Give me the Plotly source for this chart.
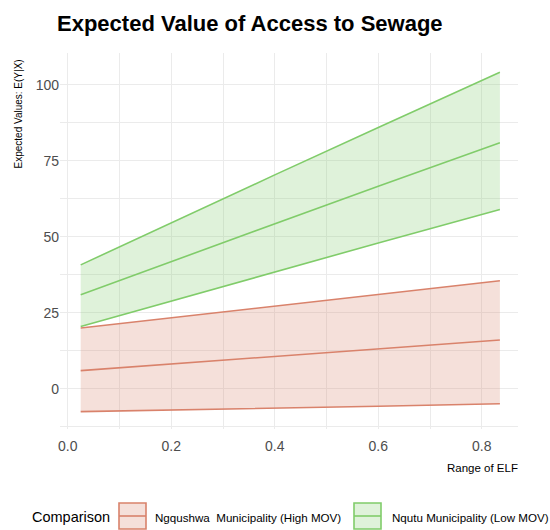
import plotly.graph_objects as go

elf = [0.025, 0.2, 0.4, 0.6, 0.835]

ngq_lower = [-7.5, -7.0, -6.3, -5.7, -4.9]
ngq_mid = [6.0, 8.2, 10.7, 13.1, 16.1]
ngq_upper = [20.0, 23.4, 27.2, 31.1, 35.6]

nqu_lower = [20.5, 28.9, 38.4, 48.0, 59.0]
nqu_mid = [31.0, 41.9, 54.3, 66.7, 81.0]
nqu_upper = [40.8, 54.7, 70.4, 86.0, 104.2]

names = ["Ngqushwa  Municipality (High MOV)", "Nqutu Municipality (Low MOV)"]
line_cols = ["#D9826B", "#80CC6A"]
fill_cols = ["rgba(217,130,107,0.25)", "rgba(128,204,106,0.25)"]

W, H = 550, 530
ML, MR, MT, MB = 60, 32, 53, 101
PW, PH = W - ML - MR, H - MT - MB


def px(xp):
    return (xp - ML) / PW


def py(yp):
    return (H - MB - yp) / PH


fig = go.Figure()
for name, lc, fc, lo, mid, up in [
    (names[0], line_cols[0], fill_cols[0], ngq_lower, ngq_mid, ngq_upper),
    (names[1], line_cols[1], fill_cols[1], nqu_lower, nqu_mid, nqu_upper),
]:
    fig.add_trace(go.Scatter(x=elf, y=lo, mode="lines", line=dict(color=lc, width=1.6),
                             showlegend=False, hoverinfo="skip"))
    fig.add_trace(go.Scatter(x=elf, y=up, mode="lines", line=dict(color=lc, width=1.6),
                             fill="tonexty", fillcolor=fc, name=name, showlegend=False))
    fig.add_trace(go.Scatter(x=elf, y=mid, mode="lines", line=dict(color=lc, width=1.6),
                             showlegend=False, name=name))

# legend drawn manually (ggplot style keys)
shapes = []
annotations = []
key_x = [(119, 146), (354, 381)]
text_x = [153, 390]
ky0, ky1 = 503, 529
for (x0, x1), lc, fc, tx, name in zip(key_x, line_cols, fill_cols, text_x, names):
    shapes.append(dict(type="rect", xref="paper", yref="paper",
                       x0=px(x0), x1=px(x1), y0=py(ky1), y1=py(ky0),
                       fillcolor=fc, line=dict(color=lc, width=1.6)))
    shapes.append(dict(type="line", xref="paper", yref="paper",
                       x0=px(x0), x1=px(x1), y0=py((ky0 + ky1) / 2), y1=py((ky0 + ky1) / 2),
                       line=dict(color=lc, width=1.6)))
    annotations.append(dict(text=name, x=px(tx), xref="paper", xanchor="left",
                            y=py(517), yref="paper", yanchor="middle", showarrow=False,
                            font=dict(size=11.6, color="black")))
annotations.append(dict(text="Comparison", x=px(30), xref="paper", xanchor="left",
                        y=py(517), yref="paper", yanchor="middle", showarrow=False,
                        font=dict(size=14.5, color="black")))
annotations.append(dict(text="Range of ELF", x=px(520), xref="paper", xanchor="right",
                        y=py(468), yref="paper", yanchor="middle", showarrow=False,
                        font=dict(size=11.5, color="black")))
annotations.append(dict(text="Expected Values: E(Y|X)", x=px(18), xref="paper", xanchor="center",
                        y=py(58), yref="paper", yanchor="top", textangle=-90, showarrow=False,
                        font=dict(size=10, color="black")))

grid = "#EBEBEB"
fig.update_layout(
    width=W, height=H,
    paper_bgcolor="white", plot_bgcolor="white",
    margin=dict(l=ML, r=MR, t=MT, b=MB, autoexpand=False),
    showlegend=False,
    font=dict(family="Liberation Sans, Arial, sans-serif", color="#4D4D4D"),
    title=dict(text="<b>Expected Value of Access to Sewage</b>", x=57 / W, xanchor="left",
               y=1 - 23 / H, yanchor="middle", pad=dict(l=0, r=0, t=0, b=0),
               font=dict(size=22, color="black", family="Liberation Sans, Arial, sans-serif")),
    xaxis=dict(range=[-0.015, 0.87], tickvals=[0.0, 0.2, 0.4, 0.6, 0.8],
               ticktext=["0.0", "0.2", "0.4", "0.6", "0.8"], automargin=False,
               showgrid=True, gridcolor=grid, gridwidth=1.2, ticklabelstandoff=7,
               minor=dict(tickvals=[0.1, 0.3, 0.5, 0.7], showgrid=True, gridcolor=grid, gridwidth=0.8),
               zeroline=False, showline=False, ticks="",
               tickfont=dict(size=14, color="#4D4D4D")),
    yaxis=dict(range=[-13.2, 110.5], tickvals=[0, 25, 50, 75, 100], automargin=False,
               showgrid=True, gridcolor=grid, gridwidth=1.2,
               minor=dict(tickvals=[-12.5, 12.5, 37.5, 62.5, 87.5], showgrid=True, gridcolor=grid, gridwidth=0.8),
               zeroline=False, showline=False, ticks="",
               tickfont=dict(size=14, color="#4D4D4D")),
    shapes=shapes,
    annotations=annotations,
)

fig.write_html("out.html", config={"displayModeBar": False},
               post_script="document.body.style.margin='0';document.body.style.padding='0';")
